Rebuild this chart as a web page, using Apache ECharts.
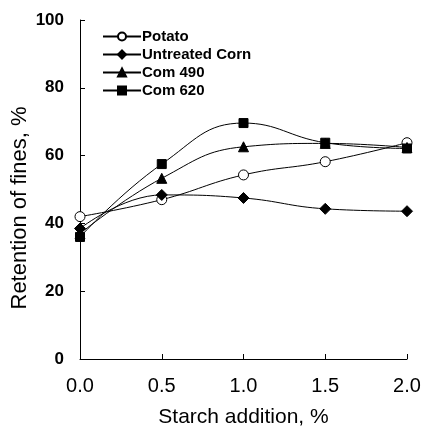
<!DOCTYPE html>
<html>
<head>
<meta charset="utf-8">
<script src="https://cdn.jsdelivr.net/npm/echarts@6/dist/echarts.min.js"></script>
<style>
  html, body { margin: 0; padding: 0; background: #fff; }
  #chart { width: 424px; height: 428px; }
</style>
</head>
<body>
<div id="chart"></div>
<script>
// Starch addition levels (%)
const starchAddition = [0.0, 0.5, 1.0, 1.5, 2.0];

// Retention of fines (%) for each starch type
const potato        = [42, 47, 54.3, 58.2, 63.8];
const untreatedCorn = [38.5, 48.4, 47.5, 44.3, 43.6];
const corn490       = [37, 53.3, 62.6, 63.6, 62.4];
const corn620       = [36, 57.5, 69.6, 63.8, 62.1];

const seriesNames = ['Potato', 'Untreated Corn', 'Com 490', 'Com 620'];
const yTicks = [0, 20, 40, 60, 80, 100];
const yTitle = 'Retention of fines, %';
const xTitle = 'Starch addition, %';

const fontFam = '"Liberation Sans", Arial, sans-serif';

function pairs(vals) {
  return starchAddition.map((x, i) => [x, vals[i]]);
}

function lineSeries(name, vals, symbol, filled) {
  return {
    name: name,
    type: 'line',
    smooth: 0.45,
    data: pairs(vals),
    symbol: symbol,
    symbolSize: symbol === 'diamond' ? 11 : (symbol === 'rect' ? 9 : 10),
    showAllSymbol: true,
    lineStyle: { color: '#000', width: 1 },
    itemStyle: {
      color: filled ? '#000' : '#fff',
      borderColor: '#000',
      borderWidth: 1
    },
    emphasis: { disabled: true }
  };
}

const chart = echarts.init(document.getElementById('chart'));
chart.setOption({
  animation: false,
  backgroundColor: '#fff',
  grid: { left: 80, right: 17, top: 20, bottom: 69, outerBoundsMode: 'none', containLabel: false },
  legend: {
    orient: 'vertical',
    left: 97,
    top: 24,
    itemWidth: 38,
    itemHeight: 10,
    itemGap: 3,
    data: seriesNames,
    textStyle: { fontFamily: fontFam, fontWeight: 'bold', fontSize: 15, color: '#000', padding: [0, 0, 0, -4] }
  },
  graphic: [{
    type: 'text',
    x: 20,
    y: 208,
    rotation: Math.PI / 2,
    silent: true,
    style: {
      text: yTitle,
      fontFamily: fontFam,
      fontSize: 22,
      fill: '#000',
      textAlign: 'center',
      textVerticalAlign: 'middle'
    }
  }],
  xAxis: {
    type: 'value',
    min: 0,
    max: 2,
    interval: 0.5,
    name: xTitle,
    nameLocation: 'middle',
    nameGap: 48,
    nameTextStyle: { fontFamily: fontFam, fontSize: 21, color: '#000' },
    axisLine: { lineStyle: { color: '#000', width: 1 } },
    axisTick: { inside: true, length: 5, lineStyle: { color: '#000' } },
    axisLabel: {
      fontFamily: fontFam, fontSize: 20, color: '#000', margin: 17,
      formatter: v => v.toFixed(1)
    },
    splitLine: { show: false }
  },
  yAxis: {
    type: 'value',
    min: yTicks[0],
    max: yTicks[yTicks.length - 1],
    interval: 20,
    axisLine: { show: true, lineStyle: { color: '#000', width: 1 } },
    axisTick: { show: true, inside: true, length: 5, lineStyle: { color: '#000' } },
    axisLabel: { fontFamily: fontFam, fontWeight: 'bold', fontSize: 17, color: '#000', margin: 16 },
    splitLine: { show: false }
  },
  series: [
    lineSeries(seriesNames[0], potato, 'circle', false),
    lineSeries(seriesNames[1], untreatedCorn, 'diamond', true),
    lineSeries(seriesNames[2], corn490, 'triangle', true),
    lineSeries(seriesNames[3], corn620, 'rect', true)
  ]
});
</script>
</body>
</html>
